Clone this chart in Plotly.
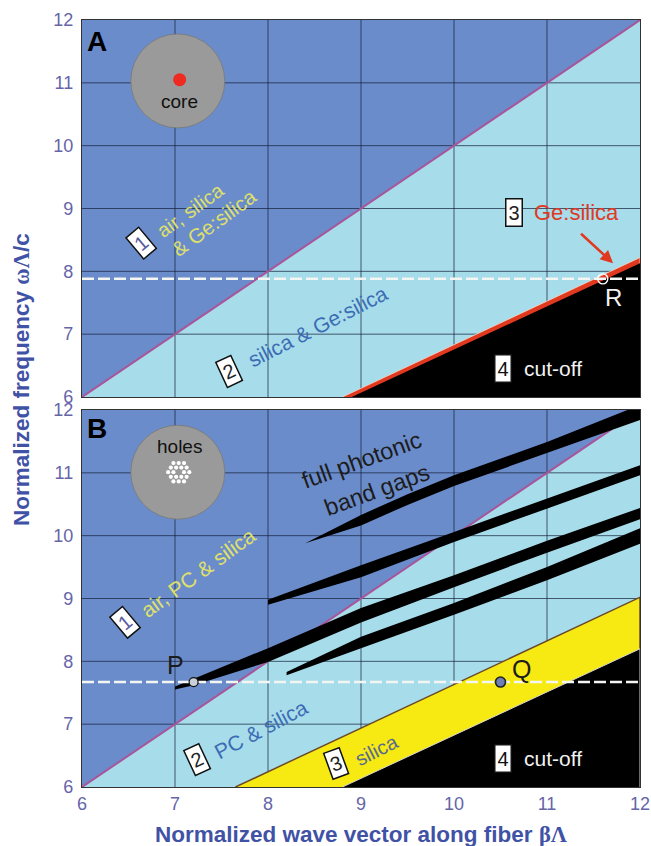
import plotly.graph_objects as go

W, H = 651, 846
TICKS = [6, 7, 8, 9, 10, 11, 12]

# Panel A
a_ge_x = [8.8, 12]
a_ge_top = [6, 8.22]
a_cut_x = [8.9, 12]
a_cut_top = [6, 8.13]
a_air_x = [6, 12]
a_air_y = [6, 12]
a_dash_y = 7.88
a_R = (11.6, 7.88)

# Panel B
b_air_x = [6, 11.7]
b_air_y = [6, 11.7]
b_yellow_x = [7.65, 12]
b_yellow_y = [6, 9.02]
b_cut_x = [8.8, 12]
b_cut_y = [6, 8.2]
b_dash_y = 7.67
b_P = (7.2, 7.67)
b_Q = (10.5, 7.67)

band1_x = [8.4, 9, 9.5, 10, 11, 12]
band1_hi = [9.88, 10.33, 10.66, 10.96, 11.49, 12.08]
band1_lo = [9.88, 10.16, 10.49, 10.79, 11.32, 11.84]
band2_x = [8.0, 9, 10, 11, 12]
band2_hi = [8.98, 9.53, 10.06, 10.59, 11.12]
band2_lo = [8.9, 9.34, 9.9, 10.43, 10.96]
band3_x = [7.0, 7.2, 8, 9, 10, 11, 12]
band3_hi = [7.6, 7.72, 8.21, 8.85, 9.37, 9.92, 10.44]
band3_lo = [7.55, 7.62, 7.99, 8.62, 9.18, 9.73, 10.26]
band4_x = [8.2, 9, 10, 11, 12]
band4_hi = [7.83, 8.39, 8.93, 9.5, 10.12]
band4_lo = [7.78, 8.21, 8.74, 9.29, 9.87]

hole_x = [6.983, 7.04, 7.097, 6.955, 7.012, 7.068, 7.125, 6.926, 6.983, 7.097, 7.154,
          6.955, 7.012, 7.068, 7.125, 6.983, 7.04, 7.097]
hole_y = [11.156, 11.156, 11.156, 11.083, 11.083, 11.083, 11.083, 11.01, 11.01, 11.01, 11.01,
          10.937, 10.937, 10.937, 10.937, 10.864, 10.864, 10.864]

BLUE, LIGHT, YELLOW, BLACK = "#6b8ccb", "#a7dcea", "#f6ea12", "#000000"
MAGENTA, RED, BROWN = "#a8559a", "#e0391f", "#6b4a2a"
GRID = "rgba(20,30,55,0.7)"
TICKC, TITLEC = "#6565a8", "#3f52a5"
FONT = "Liberation Sans"

fig = go.Figure()


def poly(xs, ys, color, ax, line=None, lw=0):
    fig.add_trace(go.Scatter(x=xs, y=ys, mode="lines", fill="toself", fillcolor=color,
                             line=dict(color=line or color, width=lw), xaxis=ax[0], yaxis=ax[1],
                             hoverinfo="skip", showlegend=False))


def line(xs, ys, color, width, ax, dash=None):
    fig.add_trace(go.Scatter(x=xs, y=ys, mode="lines", line=dict(color=color, width=width, dash=dash),
                             xaxis=ax[0], yaxis=ax[1], hoverinfo="skip", showlegend=False))


def grid(ax):
    for t in TICKS[1:-1]:
        line([t, t], [6, 12], GRID, 1, ax)
        line([6, 12], [t, t], GRID, 1, ax)


def pts(xs, ys, ax, color, size, lc="rgba(0,0,0,0)", lw=0):
    fig.add_trace(go.Scatter(x=xs, y=ys, mode="markers", xaxis=ax[0], yaxis=ax[1],
                             marker=dict(color=color, size=size, line=dict(color=lc, width=lw)),
                             hoverinfo="skip", showlegend=False))


A = ("x2", "y2")
B = ("x", "y")

# Panel A marks
poly([a_air_x[0], a_air_x[1], 12], [a_air_y[0], a_air_y[1], 6], LIGHT, A)
grid(A)
line(a_air_x, a_air_y, MAGENTA, 2, A)
poly([a_ge_x[0], a_ge_x[1], 12], [a_ge_top[0], a_ge_top[1], 6], RED, A, "#f2d8c8", 0.8)
poly([a_cut_x[0], a_cut_x[1], 12], [a_cut_top[0], a_cut_top[1], 6], BLACK, A)
line([6, 12], [a_dash_y, a_dash_y], "#f4f6f4", 2.5, A, "12px,4px")

# Panel B marks
poly([b_air_x[0], 12, 12], [b_air_y[0], 12, 6], LIGHT, B)
grid(B)
line(b_air_x, b_air_y, MAGENTA, 2, B)
poly([b_yellow_x[0], b_yellow_x[1], 12], [b_yellow_y[0], b_yellow_y[1], 6], YELLOW, B, BROWN, 1.5)
poly([b_cut_x[0], b_cut_x[1], 12], [b_cut_y[0], b_cut_y[1], 6], BLACK, B, "#d8d8c8", 1)
for bx, hi, lo in [(band1_x, band1_hi, band1_lo), (band2_x, band2_hi, band2_lo),
                   (band3_x, band3_hi, band3_lo), (band4_x, band4_hi, band4_lo)]:
    poly(bx + bx[::-1], hi + lo[::-1], BLACK, B)
line([6, 12], [b_dash_y, b_dash_y], "#f4f6f4", 2.5, B, "12px,4px")

pts([a_R[0]], [a_R[1]], A, "rgba(0,0,0,0)", 10, "#ffffff", 1.4)
pts([b_P[0]], [b_P[1]], B, "#c8d0d8", 9, "#111111", 1.2)
pts([b_Q[0]], [b_Q[1]], B, "#6f7fb8", 10, "#222222", 1.6)

# fibre cross-sections
pts([7.03], [11.03], A, "#9a9a9a", 94, "#777777", 0.8)
pts([7.05], [11.05], A, "#ee2a22", 13)
pts([7.03], [11.01], B, "#9a9a9a", 94, "#777777", 0.8)
pts(hole_x, hole_y, B, "#ffffff", 4.2)

ann = []


def text(x, y, s, color, size, angle=0, ax=A, bold=False):
    ann.append(dict(x=x, y=y, xref=ax[0], yref=ax[1], text=f"<b>{s}</b>" if bold else s, showarrow=False,
                    textangle=angle, font=dict(color=color, size=size, family=FONT),
                    xanchor="center", yanchor="middle"))


def badge(x, y, s, angle, ax, color="#222222"):
    ann.append(dict(x=x, y=y, xref=ax[0], yref=ax[1], text=s, showarrow=False, textangle=angle,
                    font=dict(color=color, size=20, family=FONT), bgcolor="#ffffff",
                    bordercolor="#111111", borderwidth=1.5, borderpad=2))


# A labels
text(6.16, 11.66, "A", "#000000", 28, 0, A, True)
text(7.05, 10.71, "core", "#111111", 19, 0, A)
badge(6.63, 8.45, "1", -40, A, "#5a5aa0")
text(7.17, 8.97, "air, silica", "#dfe06a", 20, -36, A)
text(7.42, 8.77, "&amp; Ge:silica", "#dfe06a", 20.5, -36, A)
badge(7.58, 6.41, "2", -25, A)
text(8.53, 7.13, "silica &amp; Ge:silica", "#3c6cb4", 21, -27, A)
badge(10.65, 8.93, "3", 0, A)
text(11.32, 8.93, "Ge:silica", RED, 22, 0, A)
text(11.71, 7.59, "R", "#f2f2f2", 24, 0, A)
badge(10.53, 6.46, "4", 0, A, "#111111")
text(11.06, 6.46, "cut-off", "#f2f2f2", 21, 0, A)
ann.append(dict(x=11.71, y=8.13, ax=11.35, ay=8.62, xref="x2", yref="y2", axref="x2", ayref="y2",
                text="", showarrow=True, arrowhead=2, arrowsize=1, arrowwidth=2.5, arrowcolor=RED))

# B labels
text(6.16, 11.7, "B", "#000000", 28, 0, B, True)
text(7.05, 11.42, "holes", "#111111", 19, 0, B)
badge(6.46, 8.62, "1", -40, B, "#5a5aa0")
text(7.25, 9.42, "air, PC &amp; silica", "#dfe06a", 21, -36, B)
text(9.01, 11.2, "full photonic", "#1c1c1c", 23.5, -20, B)
text(9.17, 10.73, "band gaps", "#1c1c1c", 23.5, -20, B)
text(7.0, 7.94, "P", "#1c1c1c", 25, 0, B)
text(10.73, 7.88, "Q", "#1c1c1c", 25, 0, B)
badge(7.24, 6.44, "2", -25, B)
text(7.92, 6.92, "PC &amp; silica", "#3c6cb4", 21, -28, B)
badge(8.73, 6.38, "3", -20, B)
text(9.17, 6.59, "silica", "#5a6a90", 20, -27, B)
badge(10.53, 6.46, "4", 0, B, "#111111")
text(11.06, 6.46, "cut-off", "#f2f2f2", 21, 0, B)

# axis titles, placed relative to the lower panel's frame
SYM = '<span style="font-family:Liberation Serif">{}</span>'
ann.append(dict(x=(22 - 82) / 558, y=(787 - 380) / 377, xref="x domain", yref="y domain", showarrow=False,
                textangle=-90, font=dict(color=TITLEC, size=22.5, family=FONT),
                xanchor="center", yanchor="middle",
                text="<b>Normalized frequency " + SYM.format("ωΛ") + "/c</b>"))
ann.append(dict(x=(361 - 82) / 558, y=(787 - 834) / 377, xref="x domain", yref="y domain", showarrow=False,
                font=dict(color=TITLEC, size=22.5, family=FONT), xanchor="center", yanchor="middle",
                text="<b>Normalized wave vector along fiber " + SYM.format("βΛ") + "</b>"))

xd = [82 / W, 640 / W]
axcommon = dict(range=[6, 12], tickvals=TICKS, showgrid=False, zeroline=False, showline=True, mirror=True,
                automargin=False, linecolor="#333333", linewidth=1.2, ticks="",
                tickfont=dict(color=TICKC, size=18, family=FONT))
fig.update_layout(
    width=W, height=H, margin=dict(l=0, r=0, t=0, b=0, autoexpand=False), autosize=False,
    paper_bgcolor="#ffffff", plot_bgcolor=BLUE, showlegend=False,
    xaxis=dict(domain=xd, anchor="y", **axcommon),
    yaxis=dict(domain=[1 - 787 / H, 1 - 410 / H], anchor="x", ticklabelstandoff=4, **axcommon),
    xaxis2=dict(domain=xd, anchor="y2", **{**axcommon, "showticklabels": False}),
    yaxis2=dict(domain=[1 - 397 / H, 1 - 20 / H], anchor="x2", ticklabelstandoff=4, **axcommon),
    annotations=ann,
)

fig.write_html("out.html", config=dict(displayModeBar=False), post_script="document.body.style.margin='0';")
